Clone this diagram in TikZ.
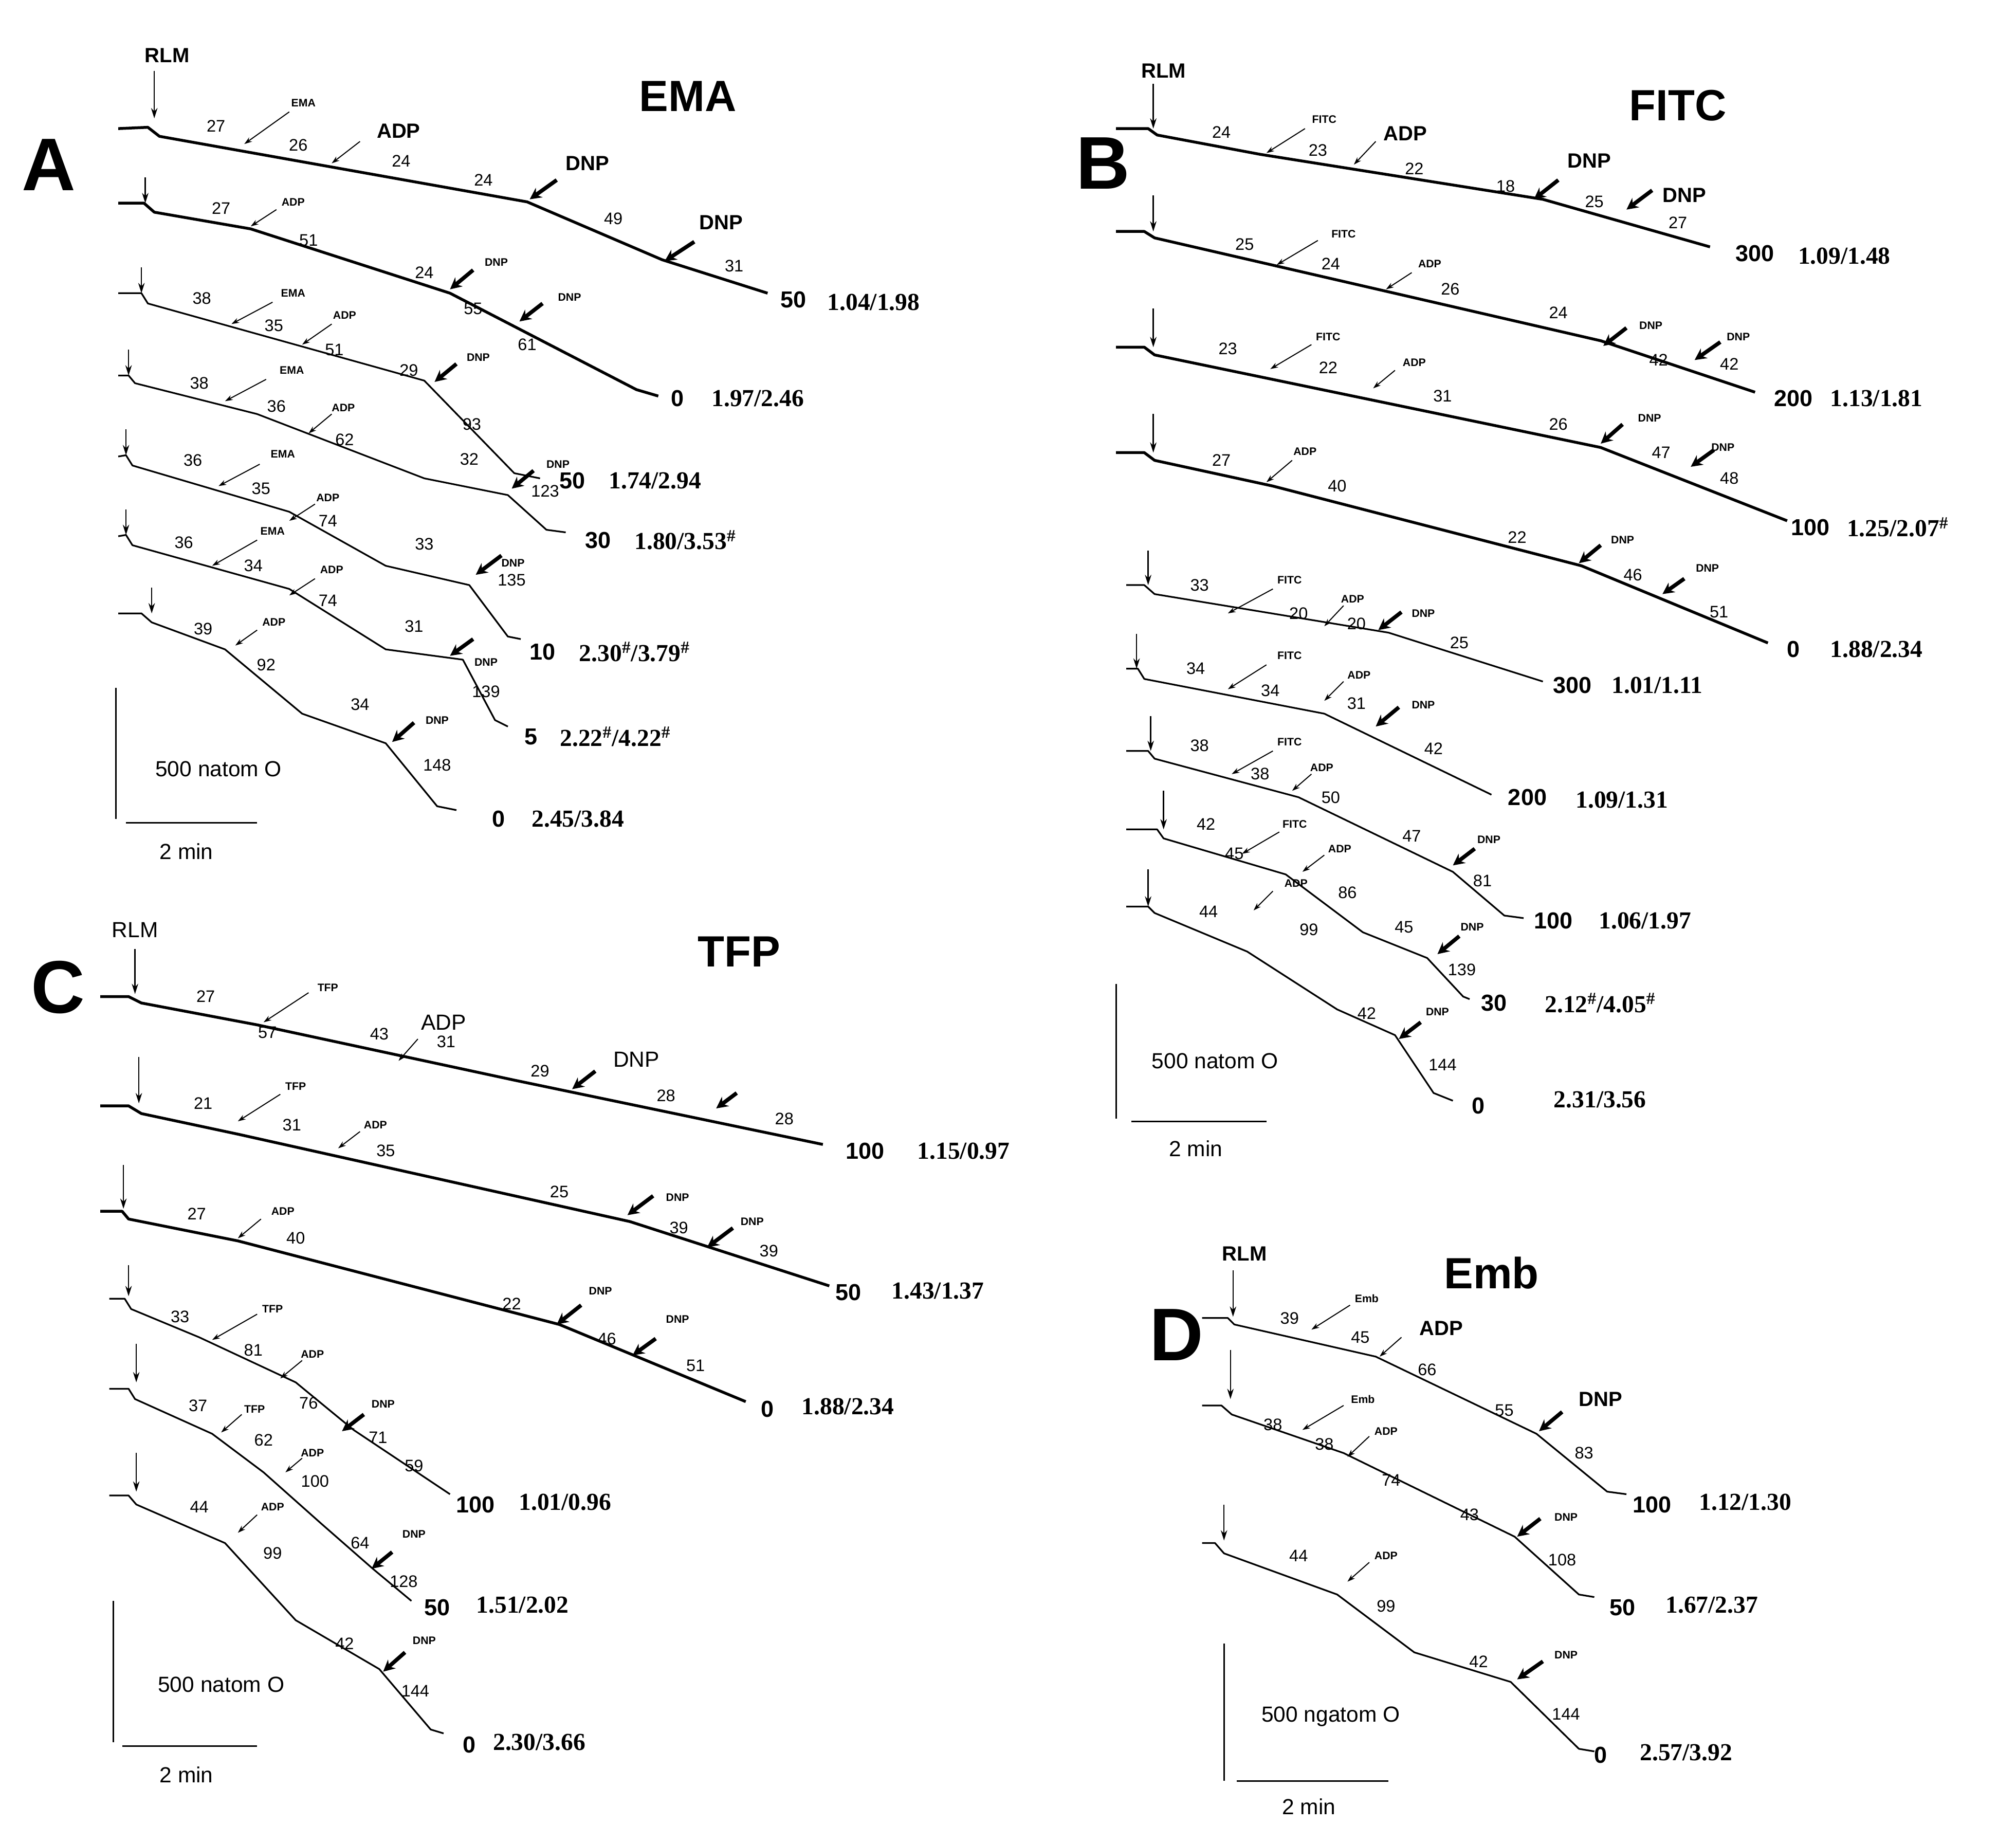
\documentclass[tikz,border=0pt]{standalone}
\usepackage{fontspec}
\setmainfont{Liberation Sans}
\newfontfamily\serf{Liberation Serif}
\usetikzlibrary{arrows.meta}
\tikzset{
 tk/.style={line width=2.2pt,line join=round},
 tn/.style={line width=1.3pt,line join=round},
 num/.style={font=\fontsize{13}{13}\selectfont},
 sm/.style={font=\bfseries\fontsize{8.5}{9}\selectfont},
 bg/.style={font=\bfseries\fontsize{16}{16}\selectfont},
 en/.style={font=\bfseries\fontsize{18}{18}\selectfont},
 rt/.style={font=\serf\bfseries\fontsize{19}{19}\selectfont,anchor=west},
 ttl/.style={font=\bfseries\fontsize{34}{34}\selectfont},
 pl/.style={font=\bfseries\fontsize{58}{58}\selectfont},
 ta/.style={line width=0.8pt,-{Stealth[length=6pt,width=4pt]}},
 fa/.style={line width=3pt,-{Stealth[length=9pt,width=9pt]}},
 da/.style={line width=1pt,-{Stealth[length=8pt,width=5pt]}},
 sc/.style={line width=1.2pt},
 lb/.style={font=\fontsize{17}{17}\selectfont},
}
\newcommand\nm[3]{\node[num] at (#1,#2) {#3};}
\newcommand\sml[3]{\node[sm] at (#1,#2) {#3};}
\begin{document}
\begin{tikzpicture}[x=1pt,y=-1pt]
\useasboundingbox[fill=white] (0,0) rectangle (1568,1433);
%% ===== A =====
\node[pl] at (38,128) {A};
\node[ttl] at (535,75) {EMA};
\node[bg] at (130,43) {RLM};
\draw[da] (120,55)--(120,92);
% A1
\draw[tk] (92,100)--(115,99)--(124,106)--(410,157)--(515,202)--(597,228);
\nm{168}{98}{27}\sml{236}{80}{EMA}\draw[ta] (225,87)--(190,112);\nm{232}{113}{26}
\node[bg] at (310,102) {ADP};\draw[ta] (280,110)--(258,127);\nm{312}{125}{24}
\nm{376}{140}{24}\draw[fa] (433,140)--(412,155);\node[bg] at (457,127) {DNP};
\nm{477}{170}{49}\draw[fa] (540,188)--(517,203);\node[bg] at (561,173) {DNP};
\nm{571}{207}{31}\node[en] at (617,233) {50};\node[rt] at (640,235) {1.04/1.98};
% A2
\draw[da] (113,138)--(113,158);
\draw[tk] (92,158)--(112,158)--(120,165)--(195,178)--(350,228)--(495,303)--(512,308);
\nm{172}{162}{27}\sml{228}{157}{ADP}\draw[ta] (215,163)--(195,176);\nm{240}{187}{51}
\nm{330}{212}{24}\draw[fa] (368,210)--(350,225);\sml{386}{204}{DNP}
\nm{368}{240}{55}\draw[fa] (422,236)--(404,250);\sml{443}{231}{DNP}\nm{410}{268}{61}
\node[en] at (527,310) {0};\node[rt] at (550,310) {1.97/2.46};
% A3
\draw[da] (110,208)--(110,228);
\draw[tn] (92,228)--(110,228)--(115,236)--(330,296)--(400,368)--(420,372);
\nm{157}{232}{38}\sml{228}{228}{EMA}\draw[ta] (212,235)--(180,252);\nm{213}{253}{35}
\sml{268}{245}{ADP}\draw[ta] (258,252)--(235,268);\nm{260}{272}{51}
\nm{318}{288}{29}\draw[fa] (355,283)--(338,297);\sml{372}{278}{DNP}\nm{367}{330}{93}
\node[en] at (445,374) {50};\node[rt] at (470,374) {1.74/2.94};
% A4
\draw[da] (100,272)--(100,292);
\draw[tn] (92,292)--(100,292)--(105,298)--(200,322)--(330,372)--(395,385)--(425,412)--(440,414);
\nm{155}{298}{38}\sml{227}{288}{EMA}\draw[ta] (207,295)--(175,312);\nm{215}{316}{36}
\sml{267}{317}{ADP}\draw[ta] (258,322)--(240,337);\nm{268}{342}{62}
\nm{365}{357}{32}\draw[fa] (415,366)--(398,380);\sml{434}{361}{DNP}\nm{424}{382}{123}
\node[en] at (465,420) {30};\node[rt] at (490,420) {1.80/3.53\textsuperscript{\#}};
% A5
\draw[da] (98,334)--(98,354);
\draw[tn] (92,355)--(98,354)--(103,362)--(225,398)--(300,440)--(365,455)--(395,495)--(405,497);
\nm{150}{358}{36}\sml{220}{353}{EMA}\draw[ta] (202,361)--(170,378);\nm{203}{380}{35}
\sml{255}{387}{ADP}\draw[ta] (245,392)--(225,405);\nm{255}{405}{74}
\nm{330}{423}{33}\draw[fa] (390,432)--(370,447);\sml{399}{438}{DNP}\nm{398}{451}{135}
\node[en] at (422,507) {10};\node[rt] at (447,507) {2.30\textsuperscript{\#}/3.79\textsuperscript{\#}};
% A6
\draw[da] (98,396)--(98,416);
\draw[tn] (92,417)--(98,416)--(103,424)--(225,458)--(300,505)--(360,513)--(385,560)--(395,565);
\nm{143}{422}{36}\sml{212}{413}{EMA}\draw[ta] (200,420)--(165,440);\nm{197}{440}{34}
\sml{258}{443}{ADP}\draw[ta] (245,450)--(225,463);\nm{255}{467}{74}
\nm{322}{487}{31}\draw[fa] (368,497)--(350,510);\sml{378}{515}{DNP}\nm{378}{538}{139}
\node[en] at (413,573) {5};\node[rt] at (432,573) {2.22\textsuperscript{\#}/4.22\textsuperscript{\#}};
% A7
\draw[da] (118,457)--(118,477);
\draw[tn] (92,477)--(110,477)--(118,484)--(175,505)--(235,555)--(300,578)--(340,627)--(355,630);
\nm{158}{489}{39}\sml{213}{484}{ADP}\draw[ta] (200,490)--(183,502);\nm{207}{517}{92}
\nm{280}{548}{34}\draw[fa] (322,562)--(305,577);\sml{340}{560}{DNP}\nm{340}{595}{148}
\node[en] at (388,637) {0};\node[rt] at (410,637) {2.45/3.84};
\draw[sc] (90,535)--(90,637);\node[lb] at (170,598) {500 natom O};
\draw[sc] (98,640)--(200,640);\node[lb] at (145,662) {2 min};
%% ===== B =====
\node[pl] at (858,127) {B};
\node[ttl] at (1305,82) {FITC};
\node[bg] at (905,55) {RLM};
\draw[da] (897,65)--(897,100);
% B1
\draw[tk] (868,100)--(893,100)--(900,105)--(980,120)--(1200,155)--(1330,192);
\nm{950}{103}{24}\sml{1030}{93}{FITC}\draw[ta] (1015,100)--(985,119);\nm{1025}{117}{23}
\node[bg] at (1093,104) {ADP};\draw[ta] (1070,110)--(1053,128);\nm{1100}{131}{22}
\nm{1171}{145}{18}\draw[fa] (1212,140)--(1193,155);\node[bg] at (1236,125) {DNP};
\nm{1240}{157}{25}\draw[fa] (1285,148)--(1265,163);\node[bg] at (1310,152) {DNP};
\nm{1305}{173}{27}\node[en] at (1365,197) {300};\node[rt] at (1395,199) {1.09/1.48};
% B2
\draw[da] (897,152)--(897,180);
\draw[tk] (868,180)--(890,180)--(898,185)--(1245,265)--(1365,305);
\nm{968}{190}{25}\sml{1045}{182}{FITC}\draw[ta] (1025,187)--(993,206);\nm{1035}{205}{24}
\sml{1112}{205}{ADP}\draw[ta] (1098,212)--(1078,225);\nm{1128}{225}{26}
\nm{1212}{243}{24}\draw[fa] (1265,255)--(1247,269);\sml{1284}{253}{DNP}\nm{1290}{280}{42}
\draw[fa] (1338,266)--(1318,280);\sml{1352}{262}{DNP}\nm{1345}{283}{42}
\node[en] at (1395,310) {200};\node[rt] at (1420,310) {1.13/1.81};
% B3
\draw[da] (897,240)--(897,270);
\draw[tk] (868,270)--(890,270)--(898,276)--(1245,348)--(1390,405);
\nm{955}{271}{23}\sml{1033}{262}{FITC}\draw[ta] (1020,268)--(988,287);\nm{1033}{286}{22}
\sml{1100}{282}{ADP}\draw[ta] (1085,288)--(1068,302);\nm{1122}{308}{31}
\nm{1212}{330}{26}\draw[fa] (1262,330)--(1245,345);\sml{1283}{325}{DNP}\nm{1292}{352}{47}
\draw[fa] (1333,350)--(1315,363);\sml{1340}{348}{DNP}\nm{1345}{372}{48}
\node[en] at (1408,410) {100};\node[rt] at (1433,410) {1.25/2.07\textsuperscript{\#}};
% B4
\draw[da] (897,322)--(897,352);
\draw[tk] (868,352)--(890,352)--(898,358)--(990,378)--(1230,440)--(1375,500);
\nm{950}{358}{27}\sml{1015}{351}{ADP}\draw[ta] (1005,358)--(985,375);\nm{1040}{378}{40}
\nm{1180}{418}{22}\draw[fa] (1245,424)--(1228,438);\sml{1262}{420}{DNP}\nm{1270}{447}{46}
\draw[fa] (1310,450)--(1293,462);\sml{1328}{442}{DNP}\nm{1337}{476}{51}
\node[en] at (1395,505) {0};\node[rt] at (1420,505) {1.88/2.34};
% B5
\draw[da] (893,428)--(893,455);
\draw[tn] (876,455)--(890,455)--(898,462)--(1080,492)--(1200,530);
\nm{933}{455}{33}\sml{1003}{451}{FITC}\draw[ta] (990,458)--(955,477);\nm{1010}{477}{20}
\sml{1052}{466}{ADP}\draw[ta] (1045,471)--(1030,487);\nm{1055}{485}{20}
\draw[fa] (1090,476)--(1072,490);\sml{1107}{477}{DNP}\nm{1135}{500}{25}
\node[en] at (1223,533) {300};\node[rt] at (1250,533) {1.01/1.11};
% B6
\draw[da] (884,493)--(884,520);
\draw[tn] (876,520)--(885,520)--(890,528)--(1030,555)--(1160,618);
\nm{930}{520}{34}\sml{1003}{510}{FITC}\draw[ta] (985,517)--(955,536);\nm{988}{537}{34}
\sml{1057}{525}{ADP}\draw[ta] (1045,530)--(1030,545);\nm{1055}{547}{31}
\draw[fa] (1088,550)--(1070,565);\sml{1107}{548}{DNP}\nm{1115}{582}{42}
\node[en] at (1188,620) {200};\node[rt] at (1222,622) {1.09/1.31};
% B7
\draw[da] (895,557)--(895,584);
\draw[tn] (876,584)--(893,584)--(898,590)--(1010,620)--(1130,678)--(1170,712)--(1185,714);
\nm{933}{580}{38}\sml{1003}{577}{FITC}\draw[ta] (990,584)--(958,602);\nm{980}{602}{38}
\sml{1028}{597}{ADP}\draw[ta] (1020,602)--(1005,615);\nm{1035}{620}{50}
\nm{1098}{650}{47}\draw[fa] (1147,660)--(1130,673);\sml{1158}{653}{DNP}\nm{1153}{685}{81}
\node[en] at (1208,716) {100};\node[rt] at (1240,716) {1.06/1.97};
% B8
\draw[da] (905,615)--(905,645);
\draw[tn] (876,645)--(900,645)--(905,652)--(1000,680)--(1060,725)--(1110,745)--(1138,775)--(1143,777);
\nm{938}{641}{42}\sml{1007}{641}{FITC}\draw[ta] (995,647)--(966,664);\nm{960}{664}{45}
\sml{1042}{660}{ADP}\draw[ta] (1030,665)--(1013,678);\nm{1048}{694}{86}
\nm{1092}{721}{45}\draw[fa] (1135,728)--(1118,742);\sml{1145}{721}{DNP}\nm{1137}{754}{139}
\node[en] at (1162,780) {30};\node[rt] at (1198,780) {2.12\textsuperscript{\#}/4.05\textsuperscript{\#}};
% B9
\draw[da] (893,676)--(893,705);
\draw[tn] (876,705)--(893,705)--(898,710)--(970,740)--(1040,785)--(1085,805)--(1115,850)--(1130,856);
\nm{940}{709}{44}\sml{1008}{687}{ADP}\draw[ta] (990,693)--(975,708);\nm{1018}{723}{99}
\nm{1063}{788}{42}\draw[fa] (1105,795)--(1088,808);\sml{1118}{787}{DNP}\nm{1122}{828}{144}
\node[en] at (1150,860) {0};\node[rt] at (1205,855) {2.31/3.56};
\draw[sc] (868,765)--(868,870);\node[lb] at (945,825) {500 natom O};
\draw[sc] (880,872)--(985,872);\node[lb] at (930,893) {2 min};
%% ===== C =====
\node[pl] at (45,768) {C};
\node[ttl] at (575,740) {TFP};
\node[font=\fontsize{17}{17}\selectfont] at (105,723) {RLM};
\draw[da] (105,738)--(105,773);
% C1
\draw[tk] (78,775)--(100,775)--(110,780)--(200,797)--(400,840)--(640,890);
\nm{160}{775}{27}\sml{255}{768}{TFP}\draw[ta] (240,772)--(205,795);\nm{208}{803}{57}
\node[font=\fontsize{17}{17}\selectfont] at (345,795) {ADP};\draw[ta] (325,808)--(310,825);
\nm{295}{804}{43}\nm{347}{810}{31}
\nm{420}{833}{29}\draw[fa] (463,833)--(445,847);\node[font=\fontsize{17}{17}\selectfont] at (495,824) {DNP};
\nm{518}{852}{28}\draw[fa] (573,850)--(557,862);\nm{610}{870}{28}
\node[en] at (673,895) {100};\node[rt] at (710,895) {1.15/0.97};
% C2
\draw[da] (108,822)--(108,858);
\draw[tk] (78,860)--(100,860)--(110,866)--(185,882)--(490,950)--(645,1000);
\nm{158}{858}{21}\sml{230}{845}{TFP}\draw[ta] (218,851)--(185,872);\nm{227}{875}{31}
\sml{292}{875}{ADP}\draw[ta] (280,880)--(263,893);\nm{300}{895}{35}
\nm{435}{927}{25}\draw[fa] (508,930)--(488,945);\sml{527}{931}{DNP}\nm{528}{955}{39}
\draw[fa] (570,955)--(550,970);\sml{585}{950}{DNP}\nm{598}{973}{39}
\node[en] at (660,1005) {50};\node[rt] at (690,1004) {1.43/1.37};
% C3
\draw[da] (96,906)--(96,940);
\draw[tk] (78,942)--(95,942)--(100,948)--(185,965)--(435,1030)--(580,1090);
\nm{153}{944}{27}\sml{220}{942}{ADP}\draw[ta] (203,948)--(185,963);\nm{230}{963}{40}
\nm{398}{1014}{22}\draw[fa] (452,1015)--(433,1030);\sml{467}{1004}{DNP}\nm{472}{1041}{46}
\draw[fa] (510,1041)--(492,1054);\sml{527}{1026}{DNP}\nm{541}{1062}{51}
\node[en] at (597,1096) {0};\node[rt] at (620,1094) {1.88/2.34};
% C4
\draw[da] (100,984)--(100,1008);
\draw[tn] (85,1010)--(97,1010)--(102,1018)--(155,1040)--(230,1075)--(275,1112)--(350,1162);
\nm{140}{1024}{33}\sml{212}{1018}{TFP}\draw[ta] (200,1022)--(165,1042);\nm{197}{1050}{81}
\sml{243}{1053}{ADP}\draw[ta] (235,1058)--(218,1072);\nm{240}{1091}{76}
\draw[fa] (283,1100)--(266,1113);\sml{298}{1092}{DNP}\nm{294}{1118}{71}\nm{322}{1140}{59}
\node[en] at (370,1170) {100};\node[rt] at (400,1168) {1.01/0.96};
% C5
\draw[da] (106,1045)--(106,1075);
\draw[tn] (85,1080)--(100,1080)--(105,1088)--(165,1115)--(205,1145)--(250,1185)--(290,1220)--(320,1245);
\nm{154}{1093}{37}\sml{198}{1096}{TFP}\draw[ta] (188,1100)--(172,1114);\nm{205}{1120}{62}
\sml{243}{1130}{ADP}\draw[ta] (235,1134)--(222,1145);\nm{245}{1152}{100}
\nm{280}{1200}{64}\draw[fa] (305,1207)--(289,1220);\sml{322}{1193}{DNP}\nm{314}{1230}{128}
\node[en] at (340,1250) {50};\node[rt] at (367,1248) {1.51/2.02};
% C6
\draw[da] (106,1130)--(106,1160);
\draw[tn] (85,1163)--(100,1163)--(106,1170)--(175,1200)--(230,1260)--(295,1298)--(335,1345)--(345,1348);
\nm{155}{1172}{44}\sml{212}{1172}{ADP}\draw[ta] (200,1178)--(185,1192);\nm{212}{1208}{99}
\nm{268}{1278}{42}\draw[fa] (315,1285)--(298,1300);\sml{330}{1276}{DNP}\nm{323}{1315}{144}
\node[en] at (365,1357) {0};\node[rt] at (380,1355) {2.30/3.66};
\draw[sc] (88,1245)--(88,1355);\node[lb] at (172,1310) {500 natom O};
\draw[sc] (95,1358)--(200,1358);\node[lb] at (145,1380) {2 min};
%% ===== D =====
\node[pl] at (915,1038) {D};
\node[ttl] at (1160,990) {Emb};
\node[bg] at (968,975) {RLM};
\draw[da] (959,988)--(959,1024);
% D1
\draw[tn] (935,1025)--(955,1025)--(960,1030)--(1070,1055)--(1195,1115)--(1250,1160)--(1265,1162);
\nm{1003}{1025}{39}\sml{1063}{1010}{Emb}\draw[ta] (1050,1015)--(1020,1034);\nm{1058}{1040}{45}
\node[bg] at (1121,1033) {ADP};\draw[ta] (1090,1040)--(1073,1055);\nm{1110}{1065}{66}
\nm{1170}{1097}{55}\draw[fa] (1215,1098)--(1197,1113);\node[bg] at (1245,1088) {DNP};
\nm{1232}{1130}{83}\node[en] at (1285,1170) {100};\node[rt] at (1318,1168) {1.12/1.30};
% D2
\draw[da] (957,1050)--(957,1088);
\draw[tn] (935,1093)--(950,1093)--(958,1100)--(1045,1130)--(1178,1195)--(1228,1240)--(1240,1242);
\nm{990}{1108}{38}\sml{1060}{1088}{Emb}\draw[ta] (1045,1093)--(1013,1112);\nm{1030}{1123}{38}
\sml{1078}{1113}{ADP}\draw[ta] (1065,1117)--(1048,1133);\nm{1082}{1151}{74}
\nm{1143}{1178}{43}\draw[fa] (1198,1181)--(1180,1195);\sml{1218}{1180}{DNP}\nm{1215}{1213}{108}
\node[en] at (1262,1250) {50};\node[rt] at (1292,1248) {1.67/2.37};
% D3
\draw[da] (952,1170)--(952,1198);
\draw[tn] (935,1200)--(945,1200)--(952,1208)--(1040,1240)--(1100,1285)--(1175,1308)--(1228,1360)--(1240,1362);
\nm{1010}{1210}{44}\sml{1078}{1210}{ADP}\draw[ta] (1065,1215)--(1048,1230);\nm{1078}{1249}{99}
\nm{1150}{1292}{42}\draw[fa] (1200,1292)--(1180,1306);\sml{1218}{1287}{DNP}\nm{1218}{1333}{144}
\node[en] at (1245,1365) {0};\node[rt] at (1272,1363) {2.57/3.92};
\draw[sc] (952,1278)--(952,1385);\node[lb] at (1035,1335) {500 ngatom O};
\draw[sc] (962,1385)--(1080,1385);\node[lb] at (1018,1405) {2 min};
\end{tikzpicture}
\end{document}
